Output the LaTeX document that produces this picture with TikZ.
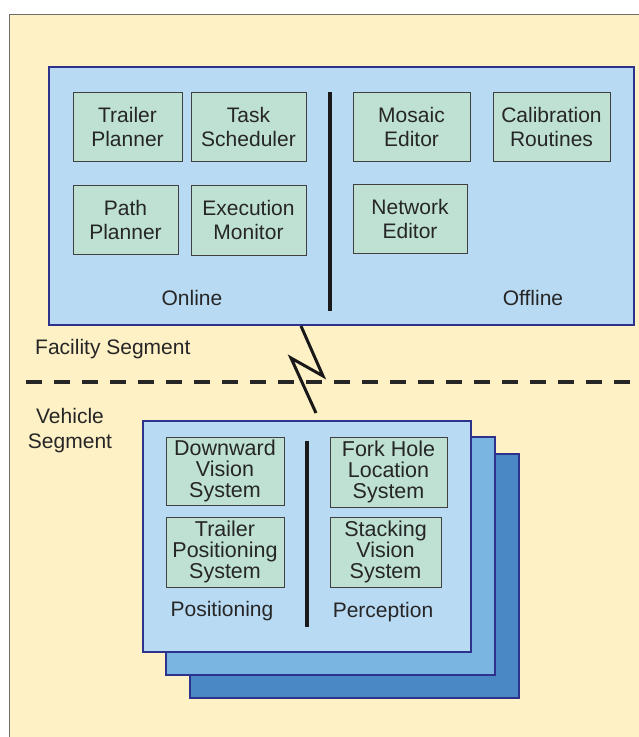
\documentclass[tikz,border=0pt]{standalone}
\usepackage{fontspec}
\setmainfont{Liberation Sans}
\usetikzlibrary{positioning}
\definecolor{paper}{RGB}{253,241,197}
\definecolor{segblue}{RGB}{185,218,243}
\definecolor{midblue}{RGB}{122,180,225}
\definecolor{deepblue}{RGB}{74,135,197}
\definecolor{navy}{RGB}{45,50,140}
\definecolor{modgreen}{RGB}{190,225,211}
\definecolor{framegray}{RGB}{110,110,110}

\begin{document}
\begin{tikzpicture}[x=1pt, y=-1pt,
    module/.style={draw=black!75, line width=1pt, fill=modgreen, inner sep=0pt, text=black!85, text centered, align=center, font=\fontsize{21}{24}\selectfont},
    vmodule/.style={module, font=\fontsize{21.5}{21}\selectfont},
    segment/.style={draw=navy, line width=2pt, fill=#1, inner sep=0pt},
    segment/.default=segblue,
    grouplabel/.style={inner sep=0pt, align=center, text=black!85, font=\fontsize{21}{25}\selectfont},
    divider/.style={line width=3.5pt, black!90},
    link/.style={line width=3pt, black!90, line join=miter}
]
\useasboundingbox (0,0) rectangle (639,737);

% Background sheet
\fill[paper] (9,14) rectangle (639,737);
\draw[framegray, line width=1pt] (9,737) -- (9,14) -- (639,14);

% Facility segment
\node[segment, minimum width=585, minimum height=258] (facility) at (341.5,196) {};

\node[module, minimum width=109, minimum height=69] (trailer) at (127.5,126.5) {Trailer\\Planner};
\node[module, minimum width=115, minimum height=69] (task) at (248.5,126.5) {Task\\Scheduler};
\node[module, minimum width=105, minimum height=69] (path) at (125.5,219.5) {Path\\Planner};
\node[module, minimum width=115, minimum height=70] (exec) at (248.5,220) {Execution\\Monitor};

\node[module, minimum width=117, minimum height=69] (mosaic) at (411.5,126.5) {Mosaic\\Editor};
\node[module, minimum width=117, minimum height=69] (calib) at (551.5,126.5) {Calibration\\Routines};
\node[module, minimum width=114, minimum height=69] (network) at (410,218.5) {Network\\Editor};

\draw[divider] (330,92) -- (330,311);
\node[grouplabel] (online) at (192,298) {Online};
\node[grouplabel] (offline) at (533,298) {Offline};

% Segment boundary
\node[grouplabel, anchor=west] (facseg) at (35,349) {Facility Segment};
\draw[line width=4pt, black!85, dash pattern=on 16pt off 12pt] (26,381.5) -- (639,381.5);
\node[grouplabel] (vehseg) at (70,431) {Vehicle\\Segment};

% Vehicle segment (stacked vehicles)
\node[segment=deepblue, minimum width=329, minimum height=244] (back) at (354,576) {};
\node[segment=midblue, minimum width=329, minimum height=238] (middle) at (330,556) {};
\node[segment, minimum width=328, minimum height=231] (front) at (307,536.5) {};

\node[vmodule, minimum width=118, minimum height=68] (downward) at (225,471) {Downward\\Vision\\System};
\node[vmodule, minimum width=118, minimum height=70] (trailerpos) at (225,552) {Trailer\\Positioning\\System};
\node[vmodule, minimum width=117, minimum height=70] (forkhole) at (388.5,472) {Fork Hole\\Location\\System};
\node[vmodule, minimum width=111, minimum height=70] (stacking) at (385.5,552) {Stacking\\Vision\\System};

\draw[divider] (307,441) -- (307,627);
\node[grouplabel] (positioning) at (222,611) {Positioning};
\node[grouplabel] (perception) at (383,612) {Perception};

% Wireless link
\coordinate (boltA) at (323,376);
\coordinate (boltB) at (291,358);
\coordinate (boltEnd) at (316,413);
\draw[link] (facility.south -| 301,0) -- (boltA) -- (boltB) -- (boltEnd);

\end{tikzpicture}
\end{document}
